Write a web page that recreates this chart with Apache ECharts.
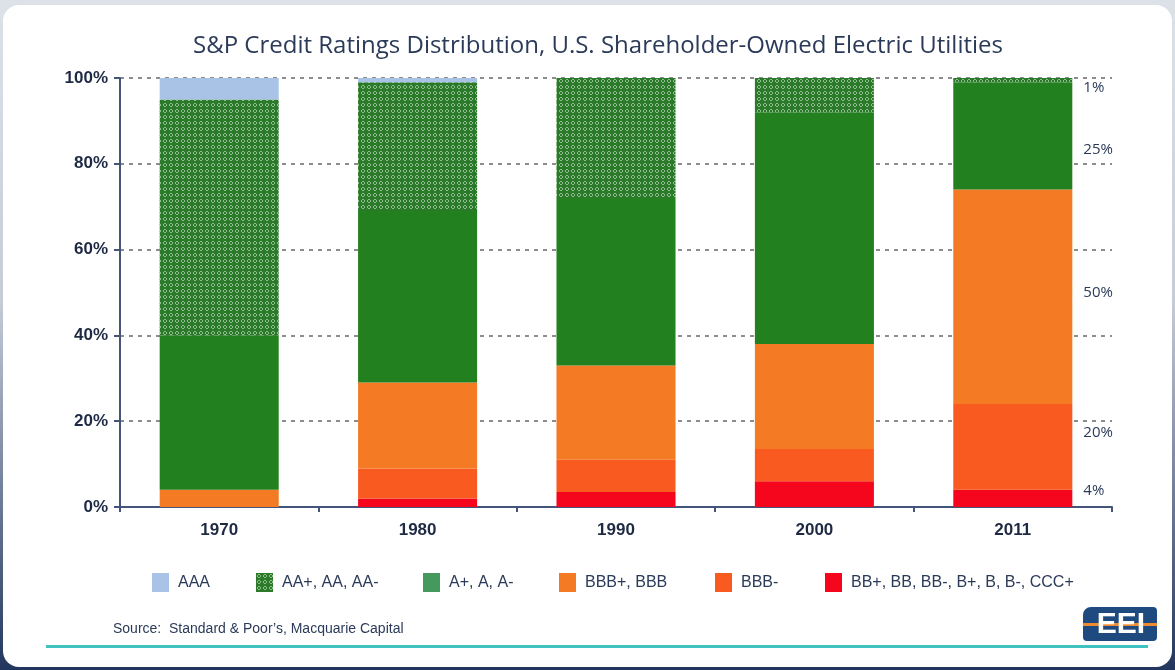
<!DOCTYPE html>
<html>
<head>
<meta charset="utf-8">
<script src="https://cdn.jsdelivr.net/npm/echarts@6/dist/echarts.min.js"></script>
<style>
    body{margin:0;}
    .wrap{position:relative;width:1175px;height:670px;overflow:hidden;
        background:linear-gradient(180deg,#dde2e9 0%,#c5ccd8 45%,#22365d 100%);}
    .panel{position:absolute;left:3px;top:5px;width:1169px;height:662px;background:#fff;border-radius:16px;}
    #chart{position:absolute;left:0;top:0;width:1175px;height:670px;}
</style>
</head>
<body>
<div class="wrap">
    <div class="panel"></div>
    <div id="chart"></div>
</div>
<script>
// 数据
var years = ['1970', '1980', '1990', '2000', '2011'];
var aaa = [5, 1, 0, 0, 0];
var aa = [55, 30, 28, 8, 1];
var aGrade = [36, 40, 39, 54, 25];
var bbbPlus = [4, 20, 22, 24.5, 50];
var bbbMinus = [0, 7, 7.5, 7.5, 20];
var bbLower = [0, 2, 3.5, 6, 4];
var yTicks = [0, 20, 40, 60, 80, 100];

var navy = '#2a3a58';
var sans = '"Liberation Sans",Arial,sans-serif';
var soft = '"Open Sans","Noto Sans",sans-serif';

// AA 的网点填充
function dotPattern() {
    var c = document.createElement('canvas');
    c.width = 6; c.height = 6;
    var g = c.getContext('2d');
    g.fillStyle = '#2a7a2a';
    g.fillRect(0, 0, 6, 6);
    g.fillStyle = '#8fbc8f';
    [[2,1],[3,1],[1,2],[4,2],[1,3],[4,3],[2,4],[3,4]].forEach(function (p) {
        g.fillRect(p[0], p[1], 1, 1);
    });
    return { image: c, repeat: 'repeat' };
}

// 2011 右侧百分比标签的上下偏移
var labelShift = { aa: 8, a: 14, bbbPlus: -4, bbbMinus: -14, bb: -8 };

function makeSeries(name, values, color, key) {
    return {
        name: name,
        type: 'bar',
        stack: 'all',
        barWidth: '60%',
        itemStyle: { color: color },
        label: {
            show: false,
            position: 'right',
            distance: 11,
            formatter: '{c}%',
            color: navy,
            fontFamily: soft,
            fontSize: 15
        },
        data: values.map(function (v, i) {
            if (i === years.length - 1 && key && labelShift[key] !== undefined) {
                return { value: v, label: { show: true, offset: [0, labelShift[key]] } };
            }
            return v;
        })
    };
}

var legendPos = [
    { name: 'AAA', left: 147 },
    { name: 'AA+, AA, AA-', left: 251 },
    { name: 'A+, A, A-', left: 418, color: '#44995f' },
    { name: 'BBB+, BBB', left: 554 },
    { name: 'BBB-', left: 710 },
    { name: 'BB+, BB, BB-, B+, B, B-, CCC+', left: 820 }
];

var myChart = echarts.init(document.getElementById('chart'));
myChart.setOption({
    animation: false,
    grid: { left: 120, right: 63, top: 78, bottom: 163 },
    legend: legendPos.map(function (l) {
        return {
            left: l.left,
            top: 568,
            icon: 'rect',
            itemWidth: 17,
            itemHeight: 19,
            selectedMode: false,
            textStyle: { color: navy, fontFamily: sans, fontSize: 16, padding: [0, 0, 0, 4] },
            data: [l.color ? { name: l.name, itemStyle: { color: l.color } } : l.name]
        };
    }),
    xAxis: {
        type: 'category',
        data: years,
        axisLine: { lineStyle: { color: '#45557a', width: 2 } },
        axisTick: { show: true, length: 5, lineStyle: { color: '#45557a', width: 2 } },
        axisLabel: { color: '#1e2a44', fontWeight: 'bold', fontSize: 17, margin: 15, fontFamily: sans }
    },
    yAxis: {
        type: 'value',
        min: yTicks[0],
        max: yTicks[yTicks.length - 1],
        interval: 20,
        axisLine: { show: true, lineStyle: { color: '#45557a', width: 2 } },
        axisTick: { show: true, length: 6, lineStyle: { color: '#45557a', width: 2 } },
        axisLabel: { formatter: '{value}%', color: '#1e2a44', fontWeight: 'bold', fontSize: 17, margin: 12, fontFamily: sans },
        splitLine: { lineStyle: { color: '#8c8c8c', width: 2, type: [4, 5] } }
    },
    series: [
        makeSeries('BB+, BB, BB-, B+, B, B-, CCC+', bbLower, '#f5061d', 'bb'),
        makeSeries('BBB-', bbbMinus, '#f85a20', 'bbbMinus'),
        makeSeries('BBB+, BBB', bbbPlus, '#f47a24', 'bbbPlus'),
        makeSeries('A+, A, A-', aGrade, '#23801f', 'a'),
        makeSeries('AA+, AA, AA-', aa, dotPattern(), 'aa'),
        makeSeries('AAA', aaa, '#a8c3e5')
    ],
    graphic: [
        {
            type: 'text', x: 598, y: 46,
            style: { text: 'S&P Credit Ratings Distribution, U.S. Shareholder-Owned Electric Utilities',
                align: 'center', verticalAlign: 'middle', fill: navy, font: '24px ' + soft }
        },
        {
            type: 'text', x: 113, y: 629,
            style: { text: 'Source:  Standard & Poor\u2019s, Macquarie Capital',
                verticalAlign: 'middle', fill: navy, font: '14px ' + sans }
        },
        {
            type: 'rect', shape: { x: 46, y: 645, width: 1102, height: 3 },
            style: { fill: '#40c3c0' }
        },
        {
            type: 'rect', shape: { x: 1083, y: 607, width: 74, height: 34, r: [8, 4, 4, 4] },
            style: { fill: '#1f4a7f' }
        },
        {
            type: 'rect', shape: { x: 1083, y: 623, width: 74, height: 3 },
            style: { fill: '#f08a32' }
        },
        {
            type: 'text', x: 1121, y: 625,
            style: { text: 'EEI', align: 'center', verticalAlign: 'middle', fill: '#fff',
                font: 'bold 30px ' + sans }
        }
    ]
});
</script>
</body>
</html>
